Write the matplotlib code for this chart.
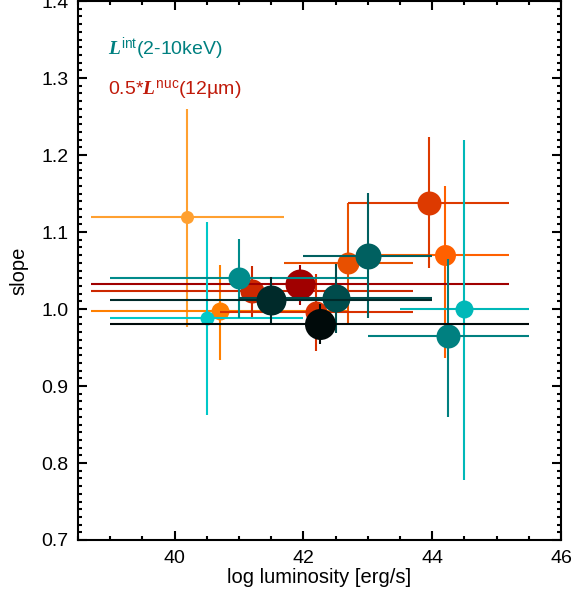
import numpy as np
import matplotlib
matplotlib.use('Agg')
import matplotlib.pyplot as plt
from matplotlib.ticker import MultipleLocator

plt.rcParams['font.family'] = ['Liberation Sans', 'DejaVu Sans']
plt.rcParams['mathtext.fontset'] = 'custom'
plt.rcParams['mathtext.it'] = 'Liberation Serif:italic:bold'
plt.rcParams['mathtext.rm'] = 'Liberation Sans'

# MIR (orange/red) bins, light -> dark
mir_x = [40.2, 40.7, 44.2, 42.7, 43.95, 41.2, 42.2, 41.95]
mir_y = [1.12, 0.997, 1.07, 1.06, 1.138, 1.023, 0.996, 1.032]
mir_xerr = [1.5, 2.0, 1.0, 1.0, 1.25, 2.5, 1.5, 3.25]
mir_ylo = [0.143, 0.063, 0.133, 0.078, 0.085, 0.033, 0.05, 0.027]
mir_yhi = [0.14, 0.06, 0.09, 0.078, 0.085, 0.033, 0.05, 0.025]
mir_r = [6.5, 9, 10.5, 11, 12, 12, 11, 15]
mir_col = ['#ffa030', '#ff8000', '#ff6000', '#e85000', '#dd3a00',
           '#cc2800', '#d83000', '#a00000']

# X-ray (teal) bins, light -> dark
xr_x = [40.5, 44.5, 41.0, 44.25, 43.0, 42.5, 41.5, 42.25]
xr_y = [0.988, 1.0, 1.04, 0.965, 1.069, 1.014, 1.012, 0.981]
xr_xerr = [1.5, 1.0, 2.0, 1.25, 1.0, 1.5, 2.5, 3.25]
xr_ylo = [0.126, 0.222, 0.052, 0.105, 0.081, 0.045, 0.03, 0.026]
xr_yhi = [0.125, 0.22, 0.051, 0.10, 0.082, 0.044, 0.03, 0.026]
xr_r = [7, 9, 11, 12, 13, 14, 15, 15.5]
xr_col = ['#00c8c8', '#00b8b8', '#008b8b', '#008080', '#006060',
          '#004c4c', '#002a2a', '#000a0a']

fig = plt.figure(figsize=(5.87, 6.0), dpi=100)
ax = fig.add_axes([0.1329, 0.1, 0.8228, 0.8983])

z = 2
for xs, ys, xe, ylo, yhi, rs, cols in [
        (mir_x, mir_y, mir_xerr, mir_ylo, mir_yhi, mir_r, mir_col),
        (xr_x, xr_y, xr_xerr, xr_ylo, xr_yhi, xr_r, xr_col)]:
    for i in range(len(xs)):
        ax.errorbar([xs[i]], [ys[i]], xerr=[[xe[i]], [xe[i]]],
                    yerr=[[ylo[i]], [yhi[i]]], fmt='o', color=cols[i],
                    ms=2 * rs[i] * 0.72, mec='none', elinewidth=1.5,
                    capsize=0, zorder=z)
        z += 1

ax.set_xlim(38.5, 46)
ax.set_ylim(0.7, 1.4)
ax.xaxis.set_major_locator(MultipleLocator(2))
ax.xaxis.set_minor_locator(MultipleLocator(0.5))
ax.yaxis.set_major_locator(MultipleLocator(0.1))
ax.yaxis.set_minor_locator(MultipleLocator(0.01))
ax.yaxis.set_major_formatter(matplotlib.ticker.FormatStrFormatter('%.1f'))
ax.tick_params(which='both', direction='in', top=True, right=True,
               width=1.5, labelsize=14, pad=7)
ax.tick_params(which='major', length=6.5)
ax.tick_params(which='minor', length=3)
for s in ax.spines.values():
    s.set_linewidth(1.5)

ax.set_xlabel('log luminosity [erg/s]', fontsize=14.5, labelpad=1)
ax.set_ylabel('slope', fontsize=14.5, labelpad=9)

fig.text(0.184, 0.917, r'$L^{\mathrm{int}}$(2-10keV)', color='#008080',
         fontsize=14, va='center')
fig.text(0.184, 0.85, r'0.5*$L^{\mathrm{nuc}}$(12µm)', color='#c01a0a',
         fontsize=14, va='center')

fig.savefig('out.png', dpi=100)
